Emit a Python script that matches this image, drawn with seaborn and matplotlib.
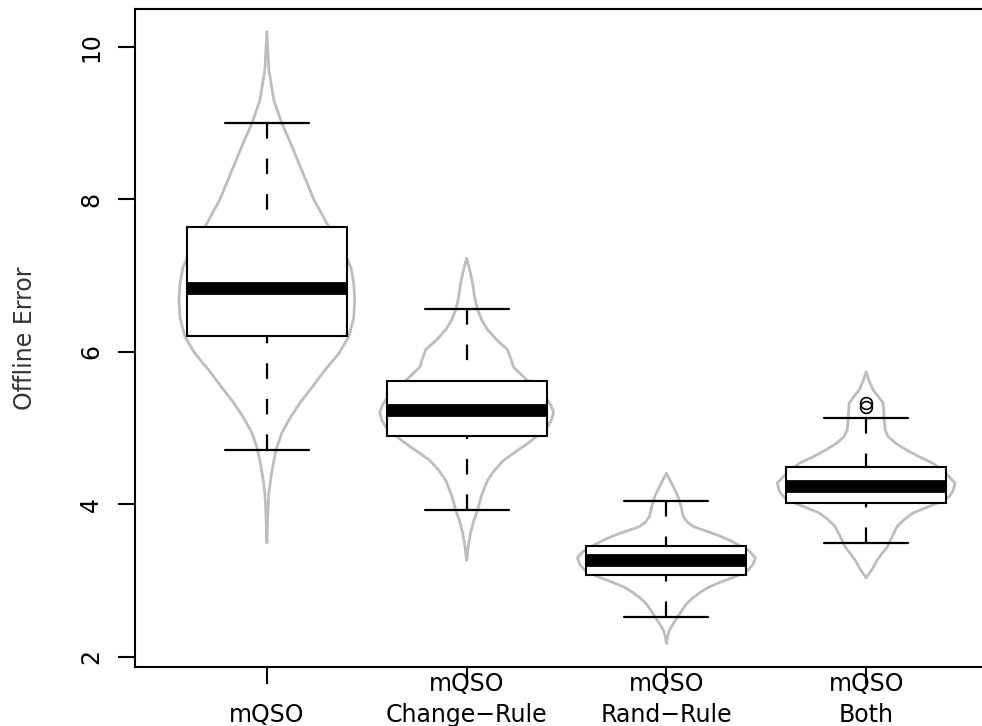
import numpy as np
import pandas as pd
import seaborn as sns
import matplotlib.pyplot as plt

# box summaries
groups = ["mQSO", "mQSO\nChange\u2212Rule", "mQSO\nRand\u2212Rule", "mQSO\nBoth"]
whislo = [4.72, 3.93, 2.52, 3.50]
q1 = [6.21, 4.90, 3.08, 4.02]
med = [6.84, 5.24, 3.27, 4.24]
q3 = [7.64, 5.62, 3.46, 4.49]
whishi = [9.00, 6.56, 4.05, 5.14]
fliers = [[], [], [], [5.28, 5.33]]

# violin outlines: value and half width (in box units)
mqso_y = [3.50, 3.90, 4.15, 4.35, 4.58, 4.75, 4.94, 5.13, 5.33, 5.55, 5.76, 5.98, 6.20,
          6.45, 6.68, 6.90, 7.11, 7.40, 7.64, 8.00, 8.35, 8.70, 9.00, 9.30, 9.70, 10.20]
mqso_w = [0.0, .005, .01, .02, .035, .05, .075, .115, .165, .23, .29, .36, .41,
          .435, .44, .435, .42, .37, .31, .235, .18, .125, .075, .035, .01, 0.0]
change_y = [3.27, 3.45, 3.63, 3.78, 3.93, 4.12, 4.32, 4.45, 4.58, 4.70, 4.81, 4.92, 5.02,
            5.11, 5.21, 5.31, 5.41, 5.50, 5.59, 5.70, 5.80, 5.92, 6.03, 6.16, 6.29, 6.42,
            6.55, 6.72, 6.90, 7.05, 7.23]
change_w = [0.0, .008, .02, .035, .055, .075, .105, .14, .185, .25, .31, .365, .405,
            .425, .435, .42, .395, .36, .32, .275, .235, .22, .205, .15, .105, .075,
            .055, .04, .03, .018, 0.0]
rand_y = [2.18, 2.27, 2.35, 2.44, 2.52, 2.62, 2.71, 2.78, 2.85, 2.92, 2.98, 3.06, 3.14,
          3.22, 3.30, 3.39, 3.47, 3.54, 3.60, 3.66, 3.71, 3.77, 3.84, 3.95, 4.06, 4.15,
          4.23, 4.32, 4.41]
rand_w = [0.0, .006, .015, .035, .055, .08, .105, .135, .17, .215, .27, .35, .41,
          .435, .445, .415, .36, .31, .255, .19, .135, .105, .085, .075, .065, .05,
          .035, .018, 0.0]
both_y = [3.04, 3.15, 3.27, 3.36, 3.44, 3.58, 3.71, 3.80, 3.89, 3.98, 4.06, 4.12, 4.18,
          4.28, 4.38, 4.54, 4.62, 4.71, 4.80, 4.89, 4.98, 5.13, 5.23, 5.33, 5.42, 5.50,
          5.62, 5.74]
both_w = [0.0, .03, .055, .08, .105, .13, .155, .19, .235, .32, .395, .42, .435,
          .445, .41, .335, .27, .205, .15, .11, .095, .09, .088, .085, .06, .035,
          .015, 0.0]

yticks = [2, 4, 6, 8, 10]

sns.set_theme(style="ticks")
plt.rcParams['font.family'] = ['DejaVu Sans']
plt.rcParams['axes.edgecolor'] = 'black'
plt.rcParams['axes.labelcolor'] = 'black'
plt.rcParams['xtick.color'] = 'black'
plt.rcParams['ytick.color'] = 'black'

fig = plt.figure(figsize=(9.82, 7.26), dpi=100)
ax = fig.add_axes([0.1375, 0.0813, 0.8788, 0.9063])

# violins first, in grey, under the boxes
outlines = [(mqso_y, mqso_w), (change_y, change_w), (rand_y, rand_w), (both_y, both_w)]
for pos, (vy, vw) in enumerate(outlines):
    vy = np.array(vy)
    vw = np.array(vw)
    df = pd.DataFrame({
        "x": np.concatenate([pos + vw, (pos - vw)[::-1]]),
        "y": np.concatenate([vy, vy[::-1]]),
    })
    sns.lineplot(data=df, x="x", y="y", sort=False, estimator=None,
                 color="#bdbdbd", lw=2.0, solid_joinstyle="round", ax=ax, zorder=1)

stats = []
for i, g in enumerate(groups):
    stats.append(dict(label=g, whislo=whislo[i], q1=q1[i], med=med[i],
                      q3=q3[i], whishi=whishi[i], fliers=fliers[i]))

parts = ax.bxp(stats, positions=range(len(groups)), widths=0.8, capwidths=0.42,
               patch_artist=True, manage_ticks=False,
               boxprops=dict(facecolor="white", edgecolor="black", lw=1.5, zorder=2),
               medianprops=dict(color="black", lw=9.2, solid_capstyle="butt", zorder=3),
               whiskerprops=dict(color="black", lw=1.6, linestyle=(0, (7.0, 9.0)), zorder=2),
               capprops=dict(color="black", lw=1.6, zorder=2),
               flierprops=dict(marker="o", mfc="none", mec="black", ms=8.5, mew=1.2, zorder=3))

# R draws the dashed whiskers from the staple toward the box
for w in parts["whiskers"]:
    w.set_ydata(w.get_ydata()[::-1])

ax.set_xlim(-0.66, 3.66)
ax.set_ylim(1.869, 10.498)
ax.set_xticks(range(len(groups)))
ax.set_xticklabels(groups, fontsize=17, linespacing=1.35)
for t in ax.get_xticklabels():
    t.set_verticalalignment("bottom")
ax.set_yticks(yticks)
ax.set_yticklabels([str(v) for v in yticks], fontsize=17, rotation=90, va="center")

ax.tick_params(axis="x", length=12, width=1.5, pad=31)
ax.tick_params(axis="y", length=12, width=1.5, pad=11)
ax.set_xlabel("")
ax.set_ylabel("Offline Error", fontsize=17, color="#333333")
ax.yaxis.set_label_coords(-0.1136, 0.5)

for s in ax.spines.values():
    s.set_linewidth(1.5)
    s.set_color("black")

fig.savefig("out.png", dpi=100)
